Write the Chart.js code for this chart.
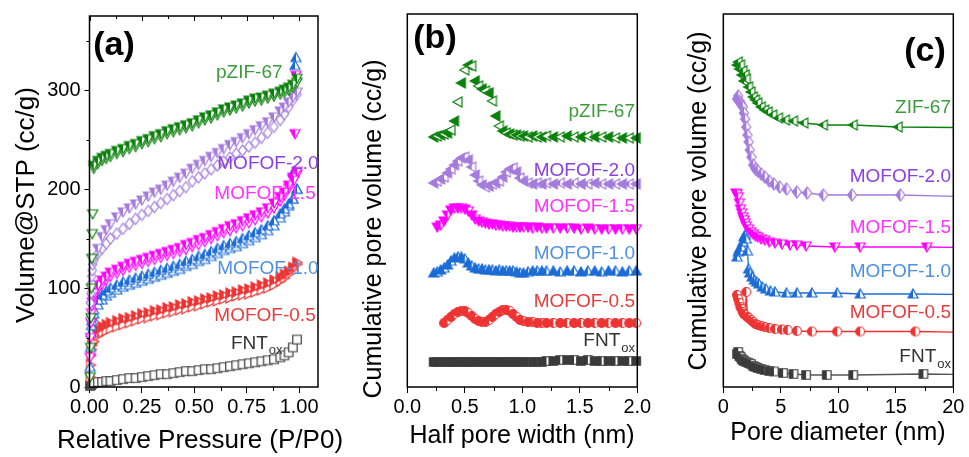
<!DOCTYPE html>
<html><head><meta charset="utf-8">
<script src="https://cdn.jsdelivr.net/npm/chart.js@4.4.1/dist/chart.umd.min.js"></script>
<style>
html,body{margin:0;padding:0;background:#fff;}
#wrap{position:relative;width:969px;height:457px;overflow:hidden;background:#fff;}
canvas{position:absolute;left:0;top:0;}
</style></head><body>
<div id="wrap">
<canvas id="ca" width="969" height="457"></canvas>
<canvas id="cb" width="969" height="457"></canvas>
<canvas id="cc" width="969" height="457"></canvas>
</div>
<script>
// ---------- Panel (a): N2 isotherms ----------
const pressure = [0.02,0.04,0.06,0.08,0.10,0.13,0.16,0.19,0.22,0.25,0.28,0.31,0.34,0.37,0.40,0.43,0.46,0.49,0.52,0.55,0.58,0.61,0.64,0.67,0.70,0.73,0.76,0.79,0.82,0.85,0.88,0.91,0.93,0.95,0.97,0.99];
const lowPressure = [0.003,0.005,0.007,0.009,0.011,0.013,0.015];
const satPressure = [0.975,0.98,0.985];
const xTicksA = [0,0.25,0.5,0.75,1.0];
const yTicksA = [0,100,200,300];

const zif_ads = [221,226,229,231,233,236,238,241,243,246,248,251,253,256,258,260,262,264,267,270,272,275,278,280,282,284,287,289,290,292,294,296,298,300,303,308];
const zif_des = [224,229,232,234,236,239,241,244,246,249,251,254,256,259,261,263,265,267,270,273,275,278,281,283,285,287,290,292,293,295,297,299,301,303,306,312];
const zif_low = [10,40,70,100,130,155,175];
const mof20_ads = [128,135,140,145,150,155,160,165,170,174,178,182,186,190,194,198,202,208,212,216,220,224,228,232,236,239,243,247,252,257,263,270,276,283,290,296];
const mof20_des = [130,140,152,159,165,172,177,181,185,189,193,197,200,204,208,212,216,221,225,229,233,237,241,245,248,252,256,260,264,268,273,279,283,288,293,298];
const mof20_low = [70,85,95,105,112,118,124];
const mof15_ads = [92,99,104,108,112,115,118,121,123,125,127,129,131,133,135,137,139,142,144,147,150,153,156,158,161,163,166,169,172,176,181,188,194,201,210,215];
const mof15_des = [95,103,108,112,116,119,122,125,127,129,131,133,135,137,139,141,144,146,149,151,154,157,160,163,165,168,171,174,177,181,186,192,197,204,212,218];
const mof15_low = [30,50,65,75,82,86,90];
const mof15_sat = [209,256,315];
const mof10_ads = [74,83,88,92,95,98,101,103,105,107,109,111,113,115,117,119,122,124,127,129,132,135,138,140,142,145,148,151,154,158,163,171,177,183,190,200];
const mof10_des = [78,88,93,97,100,103,106,108,110,112,114,116,118,120,122,124,127,129,132,134,137,140,143,145,147,150,153,156,159,163,168,175,180,185,190,200];
const mof10_low = [20,40,55,62,67,71,74];
const mof10_sat = [218,325,333];
const mof05_ads = [46,52,55,57,59,61,63,65,67,69,70,72,73,75,76,78,79,81,82,84,86,87,89,90,92,93,94,96,98,100,103,107,110,114,119,124];
const mof05_des = [52,58,61,63,65,67,69,70,72,74,75,77,78,80,81,83,84,86,87,89,90,92,93,95,96,98,99,101,103,105,108,111,114,117,121,126];
const mof05_low = [10,22,32,38,42,44,46];
const fnt_ads = [4,5,5,6,6,7,8,9,9,10,11,12,13,13,14,15,16,16,17,18,18,19,20,21,22,23,24,25,26,27,28,30,32,35,40,48];
const fnt_low = [1,2,2,3,3,4,4];

// ---------- Panel (b): pore size distribution (offset, arbitrary units) ----------
const halfWidth = [0.23,0.26,0.29,0.32,0.35,0.38,0.41,0.44,0.47,0.50,0.53,0.56,0.59,0.62,0.65,0.68,0.71,0.74,0.77,0.80,0.83,0.86,0.89,0.92,0.95,0.98,1.01,1.05,1.09,1.13,1.17,1.21,1.27,1.33,1.39,1.45,1.51,1.57,1.63,1.69,1.75,1.81,1.87,1.93,1.99];
const psd_zif = [2.50,2.51,2.52,2.53,2.54,2.57,2.66,2.85,3.04,3.17,3.22,3.21,3.06,3.01,2.98,2.96,2.94,2.86,2.71,2.61,2.56,2.54,2.53,2.52,2.52,2.51,2.51,2.50,2.51,2.50,2.50,2.51,2.50,2.50,2.51,2.50,2.50,2.51,2.50,2.50,2.50,2.49,2.49,2.49,2.49];
const psd_mof20 = [2.04,2.06,2.08,2.10,2.14,2.18,2.22,2.26,2.29,2.30,2.27,2.20,2.12,2.06,2.02,2.00,2.01,2.03,2.04,2.06,2.10,2.15,2.18,2.19,2.15,2.09,2.06,2.04,2.03,2.04,2.03,2.04,2.03,2.04,2.03,2.04,2.03,2.03,2.04,2.03,2.03,2.03,2.03,2.03,2.03];
const psd_mof15 = [null,1.60,1.62,1.66,1.72,1.77,1.79,1.79,1.79,1.78,1.76,1.72,1.68,1.66,1.65,1.64,1.63,1.63,1.62,1.62,1.61,1.61,1.61,1.60,1.60,1.60,1.60,1.60,1.59,1.60,1.59,1.59,1.59,1.59,1.59,1.59,1.58,1.59,1.58,1.58,1.58,1.58,1.58,1.58,1.58];
const psd_mof10 = [1.14,1.15,1.17,1.19,1.22,1.26,1.29,1.30,1.30,1.28,1.24,1.21,1.19,1.18,1.18,1.17,1.17,1.17,1.16,1.17,1.16,1.16,1.16,1.16,1.15,1.14,1.14,1.15,1.16,1.16,1.16,1.16,1.16,1.15,1.16,1.16,1.15,1.16,1.16,1.15,1.16,1.16,1.15,1.16,1.16];
const psd_mof05 = [null,null,null,0.64,0.67,0.70,0.73,0.75,0.76,0.76,0.74,0.71,0.68,0.66,0.65,0.65,0.67,0.70,0.73,0.75,0.77,0.77,0.76,0.73,0.70,0.67,0.66,0.65,0.65,0.64,0.64,0.64,0.64,0.64,0.64,0.64,0.64,0.64,0.64,0.64,0.64,0.64,0.64,0.64,0.64];
const psd_fnt = [0.25,0.25,0.25,0.25,0.25,0.25,0.25,0.25,0.25,0.25,0.25,0.25,0.25,0.25,0.25,0.25,0.25,0.25,0.25,0.25,0.25,0.25,0.25,0.25,0.25,0.25,0.25,0.25,0.25,0.25,0.25,0.26,0.26,0.27,0.27,0.27,0.26,0.27,0.26,0.26,0.26,0.26,0.26,0.26,0.26];
const xTicksB = [0,0.5,1.0,1.5,2.0];

// ---------- Panel (c): cumulative pore volume vs pore diameter (offset) ----------
const zifD = [1.2,1.3,1.4,1.5,1.6,1.7,1.8,1.9,2.0,2.2,2.4,2.6,2.8,3.0,3.3,3.6,3.9,4.3,4.8,5.4,6.1,7.0,8.7,11.3,15.2,25];
const zifV = [3.22,3.25,3.18,3.22,3.12,3.16,3.06,3.12,3.08,3.00,2.95,2.90,2.87,2.84,2.80,2.77,2.75,2.72,2.69,2.67,2.66,2.64,2.62,2.62,2.60,2.59];
const mof20D = [1.2,1.3,1.4,1.5,1.6,1.7,1.8,1.9,2.0,2.1,2.2,2.3,2.45,2.6,2.8,3.0,3.3,3.6,4.0,4.4,4.9,5.5,6.4,7.3,8.7,11.2,15.4,25];
const mof20V = [2.88,2.91,2.86,2.84,2.82,2.80,2.74,2.68,2.60,2.52,2.45,2.37,2.30,2.22,2.18,2.16,2.13,2.10,2.06,2.03,2.00,1.98,1.95,1.94,1.92,1.92,1.92,1.89];
const mof15D = [1.1,1.2,1.3,1.4,1.5,1.6,1.7,1.8,1.9,2.0,2.2,2.4,2.6,2.8,3.0,3.3,3.6,4.0,4.5,5.1,5.8,6.4,7.2,9.7,11.9,17.7,25];
const mof15V = [1.94,1.93,1.90,1.84,1.78,1.74,1.70,1.67,1.64,1.61,1.58,1.55,1.53,1.51,1.50,1.48,1.47,1.45,1.44,1.43,1.42,1.42,1.41,1.40,1.40,1.40,1.39];
const mof10D = [1.2,1.3,1.4,1.5,1.6,1.7,1.8,1.9,2.0,2.1,2.2,2.3,2.5,2.7,2.9,3.1,3.4,3.7,4.1,4.5,5.5,6.4,7.7,9.9,11.9,16.5,25];
const mof10V = [1.30,1.35,1.38,1.36,1.40,1.45,1.50,1.52,1.48,1.36,1.18,1.14,1.10,1.07,1.05,1.03,1.00,0.98,0.96,0.95,0.94,0.94,0.94,0.94,0.93,0.93,0.92];
const mof05D = [1.2,1.3,1.4,1.5,1.6,1.7,1.8,1.9,2.0,2.1,2.2,2.4,2.6,2.8,3.0,3.3,3.6,4.0,4.5,5.1,5.6,6.4,7.7,9.9,11.9,16.7,25];
const mof05V = [0.92,0.88,0.84,0.80,0.78,0.75,0.73,0.72,0.95,0.70,0.69,0.67,0.65,0.63,0.62,0.61,0.60,0.59,0.58,0.575,0.57,0.56,0.555,0.555,0.555,0.555,0.54];
const fntD = [1.2,1.3,1.4,1.5,1.6,1.7,1.8,2.0,2.2,2.4,2.6,2.8,3.0,3.3,3.6,4.0,4.4,5.2,6.1,7.2,9.0,11.3,17.4,25];
const fntV = [0.33,0.35,0.31,0.30,0.28,0.27,0.26,0.25,0.24,0.23,0.21,0.20,0.19,0.18,0.17,0.16,0.155,0.14,0.13,0.12,0.12,0.12,0.13,0.12];
const xTicksC = [0,5,10,15,20];

// ---------- styling ----------
const FONT = "'Liberation Sans', Arial, Helvetica, sans-serif";
Chart.defaults.font.family = FONT;
const COL = {green:'#0c800c', purple:'#a47bdc', magenta:'#ff00ff', blue:'#1c6cd6', red:'#ee3333', grey:'#3a3a3a'};
const TXT = {green:'#3c9c3c', purple:'#8a40e4', magenta:'#ff33ff', blue:'#5090e0', red:'#e83c3c', grey:'#333333'};

function makeMarker(shape, color, size, mode, rot) {
  const pad = 2, dim = Math.ceil(size + pad * 2);
  const c = document.createElement('canvas');
  c.width = dim; c.height = dim;
  const g = c.getContext('2d');
  const r = size / 2;
  const path = () => {
    g.beginPath();
    if (shape === 'tri') { g.moveTo(0, -r); g.lineTo(r, r * 0.8); g.lineTo(-r, r * 0.8); g.closePath(); }
    else if (shape === 'diamond') { g.moveTo(0, -r); g.lineTo(r * 0.75, 0); g.lineTo(0, r); g.lineTo(-r * 0.75, 0); g.closePath(); }
    else if (shape === 'circle') { g.arc(0, 0, r * 0.9, 0, Math.PI * 2); }
    else { g.rect(-r * 0.85, -r * 0.85, r * 1.7, r * 1.7); }
  };
  const rad = (rot || 0) * Math.PI / 180;
  g.translate(dim / 2, dim / 2);
  g.save(); g.rotate(rad); path(); g.fillStyle = '#fff'; g.fill(); g.restore();
  if (mode === 'half' || mode === 'full') {
    g.save();
    if (mode === 'half') { g.beginPath(); g.rect(-dim / 2, -dim / 2, dim / 2, dim); g.clip(); }
    g.rotate(rad); path(); g.fillStyle = color; g.fill();
    g.restore();
  }
  g.save(); g.rotate(rad); path(); g.strokeStyle = color; g.lineWidth = 1.2; g.stroke(); g.restore();
  return c;
}

function pts(xs, ys) { const out = []; xs.forEach((x, i) => { if (ys[i] != null) out.push({x: x, y: ys[i]}); }); return out; }
function ds(xs, ys, marker, extra) {
  return Object.assign({data: pts(xs, ys), pointStyle: marker, pointRadius: 4, showLine: false, clip: false}, extra || {});
}
function dsAlt(xs, ys, m1, m2) {
  const d = pts(xs, ys);
  return {data: d, pointStyle: d.map((p, i) => (i % 2 ? m2 : m1)), pointRadius: 4, showLine: false, clip: false};
}

// decoration plugin: frame, minor ticks, titles, labels
const decor = {
  id: 'decor',
  afterDraw(chart, args, o) {
    const ctx = chart.ctx, a = chart.chartArea, xs = chart.scales.x, ys = chart.scales.y;
    ctx.save();
    ctx.strokeStyle = '#000'; ctx.lineWidth = 1;
    const line = (x1, y1, x2, y2) => { ctx.beginPath(); ctx.moveTo(x1, y1); ctx.lineTo(x2, y2); ctx.stroke(); };
    (o.minorX || []).forEach(v => { const p = Math.round(xs.getPixelForValue(v)) + 0.5; line(p, a.bottom, p, a.bottom + 4); });
    (o.minorY || []).forEach(v => { const p = Math.round(ys.getPixelForValue(v)) + 0.5; line(a.left, p, a.left - 3, p); });
    (o.topMajor || []).forEach(v => { const p = Math.round(xs.getPixelForValue(v)) + 0.5; line(p, a.top, p, a.top + 5); });
    (o.topMinor || []).forEach(v => { const p = Math.round(xs.getPixelForValue(v)) + 0.5; line(p, a.top, p, a.top + 3); });
    ctx.lineWidth = 1.5;
    ctx.strokeRect(a.left, a.top, a.right - a.left, a.bottom - a.top);
    ctx.fillStyle = '#000';
    ctx.textAlign = 'center'; ctx.textBaseline = 'middle';
    if (o.xTitle) { ctx.font = o.xTitle.size + 'px ' + FONT; ctx.fillText(o.xTitle.text, o.xTitle.x, o.xTitle.y); }
    if (o.yTitle) {
      ctx.save(); ctx.translate(o.yTitle.x, o.yTitle.y); ctx.rotate(-Math.PI / 2);
      ctx.font = o.yTitle.size + 'px ' + FONT; ctx.fillText(o.yTitle.text, 0, 0); ctx.restore();
    }
    if (o.letter) { ctx.font = 'bold ' + o.letter.size + 'px ' + FONT; ctx.fillText(o.letter.text, o.letter.x, o.letter.y); }
    (o.labels || []).forEach(l => {
      const px = xs.getPixelForValue(l.x), py = ys.getPixelForValue(l.y);
      ctx.fillStyle = l.color; ctx.textAlign = 'right'; ctx.textBaseline = 'middle';
      if (l.sub) {
        ctx.font = '13px ' + FONT;
        const sw = ctx.measureText(l.sub).width;
        ctx.fillText(l.sub, px, py + 7);
        ctx.font = '19px ' + FONT;
        ctx.fillText(l.text, px - sw - 1, py);
      } else {
        ctx.font = '19px ' + FONT;
        ctx.fillText(l.text, px, py);
      }
    });
    ctx.restore();
  }
};

function xScale(min, max, step, dec) {
  return {
    type: 'linear', min: min, max: max,
    afterFit: s => { s.height = 30; },
    afterBuildTicks: s => { s.ticks = (dec.ticks).map(v => ({value: v})); },
    ticks: {stepSize: step, includeBounds: false, autoSkip: false, maxRotation: 0, color: '#000',
      font: {size: 20, family: FONT}, padding: 2, callback: v => v.toFixed(dec.digits)},
    grid: {display: true, drawOnChartArea: false, drawTicks: true, tickLength: 6, color: '#000', lineWidth: 1},
    border: {display: false}
  };
}

// ---------- Chart (a) ----------
const mA = {
  zifO: makeMarker('tri', COL.green, 10, 'open', 180), zifH: makeMarker('tri', COL.green, 10, 'half', 180),
  m20O: makeMarker('diamond', COL.purple, 11, 'open', 0), m20H: makeMarker('tri', COL.purple, 10, 'half', 180),
  m15O: makeMarker('tri', COL.magenta, 10, 'open', 180), m15H: makeMarker('tri', COL.magenta, 10, 'half', 180),
  m10O: makeMarker('tri', COL.blue, 10, 'open', 0), m10H: makeMarker('tri', COL.blue, 10, 'half', 0),
  m05O: makeMarker('tri', COL.red, 10, 'open', 90), m05H: makeMarker('tri', COL.red, 10, 'half', 90),
  fntO: makeMarker('square', COL.grey, 10, 'open', 0)
};
new Chart(document.getElementById('ca'), {
  type: 'scatter',
  data: {datasets: [
    ds(pressure, zif_des, mA.zifH), ds(pressure, zif_ads, mA.zifO), ds(lowPressure, zif_low, mA.zifO),
    ds(pressure, mof20_des, mA.m20H), ds(pressure, mof20_ads, mA.m20O), ds(lowPressure, mof20_low, mA.m20O),
    ds(satPressure, mof15_sat, mA.m15H), ds(pressure, mof15_des, mA.m15H), ds(pressure, mof15_ads, mA.m15O), ds(lowPressure, mof15_low, mA.m15O),
    ds(satPressure, mof10_sat, mA.m10H), ds(pressure, mof10_des, mA.m10H), ds(pressure, mof10_ads, mA.m10O), ds(lowPressure, mof10_low, mA.m10O),
    ds(pressure, mof05_des, mA.m05H), ds(pressure, mof05_ads, mA.m05O), ds(lowPressure, mof05_low, mA.m05O),
    ds(pressure, fnt_ads, mA.fntO), ds(lowPressure, fnt_low, mA.fntO)
  ]},
  options: {
    responsive: false, animation: false, events: [],
    layout: {autoPadding: false, padding: {left: 39.5, right: 651, top: 14, bottom: 40}},
    plugins: {legend: {display: false}, tooltip: {enabled: false},
      decor: {
        minorX: [0.125, 0.375, 0.625, 0.875], minorY: [50, 150, 250, 350],
        topMajor: xTicksA, topMinor: [0.125, 0.375, 0.625, 0.875],
        xTitle: {text: 'Relative Pressure (P/P0)', x: 200, y: 441, size: 26},
        yTitle: {text: 'Volume@STP (cc/g)', x: 27, y: 205, size: 26},
        letter: {text: '(a)', x: 114, y: 46, size: 34},
        labels: [
          {text: 'pZIF-67', x: 0.921, y: 318, color: TXT.green},
          {text: 'MOFOF-2.0', x: 1.093, y: 226, color: TXT.purple},
          {text: 'MOFOF-1.5', x: 1.079, y: 195, color: TXT.magenta},
          {text: 'MOFOF-1.0', x: 1.093, y: 120, color: TXT.blue},
          {text: 'MOFOF-0.5', x: 1.079, y: 72, color: TXT.red},
          {text: 'FNT', sub: 'ox', x: 0.921, y: 44, color: TXT.grey}
        ]
      }
    },
    scales: {
      x: xScale(0, 1.09, 0.25, {ticks: xTicksA, digits: 2}),
      y: {
        min: 0, max: 375,
        afterFit: s => { s.width = 50; },
        afterBuildTicks: s => { s.ticks = yTicksA.map(v => ({value: v})); },
        ticks: {stepSize: 100, includeBounds: false, color: '#000', font: {size: 20, family: FONT}, padding: 4},
        grid: {display: true, drawOnChartArea: false, drawTicks: true, tickLength: 5, color: '#000'},
        border: {display: false}
      }
    }
  },
  plugins: [decor]
});

// ---------- Chart (b) ----------
const mB = {
  zifF: makeMarker('tri', COL.green, 10, 'full', -90), zifO: makeMarker('tri', COL.green, 10, 'open', -90),
  m20F: makeMarker('tri', COL.purple, 10, 'full', -90), m20O: makeMarker('tri', COL.purple, 10, 'half', -90),
  m15F: makeMarker('tri', COL.magenta, 10, 'full', 180), m15O: makeMarker('tri', COL.magenta, 10, 'half', 180),
  m10F: makeMarker('tri', COL.blue, 10, 'full', 0), m10O: makeMarker('tri', COL.blue, 10, 'half', 0),
  m05F: makeMarker('circle', COL.red, 10, 'full', 0), m05O: makeMarker('circle', COL.red, 10, 'half', 0),
  fntF: makeMarker('square', COL.grey, 10, 'full', 0), fntO: makeMarker('square', COL.grey, 10, 'half', 0)
};
new Chart(document.getElementById('cb'), {
  type: 'scatter',
  data: {datasets: [
    dsAlt(halfWidth, psd_zif, mB.zifF, mB.zifO), dsAlt(halfWidth, psd_mof20, mB.m20F, mB.m20O),
    dsAlt(halfWidth, psd_mof15, mB.m15F, mB.m15O), dsAlt(halfWidth, psd_mof10, mB.m10F, mB.m10O),
    dsAlt(halfWidth, psd_mof05, mB.m05F, mB.m05O), dsAlt(halfWidth, psd_fnt, mB.fntF, mB.fntO)
  ]},
  options: {
    responsive: false, animation: false, events: [],
    layout: {autoPadding: false, padding: {left: 407.3, right: 331.7, top: 14, bottom: 40}},
    plugins: {legend: {display: false}, tooltip: {enabled: false},
      decor: {
        minorX: [0.25, 0.75, 1.25, 1.75],
        xTitle: {text: 'Half pore width (nm)', x: 522, y: 436, size: 25},
        yTitle: {text: 'Cumulative pore volume (cc/g)', x: 374, y: 229, size: 25},
        letter: {text: '(b)', x: 435, y: 39, size: 34},
        labels: [
          {text: 'pZIF-67', x: 1.98, y: 2.75, color: TXT.green},
          {text: 'MOFOF-2.0', x: 1.98, y: 2.16, color: TXT.purple},
          {text: 'MOFOF-1.5', x: 1.98, y: 1.80, color: TXT.magenta},
          {text: 'MOFOF-1.0', x: 1.98, y: 1.33, color: TXT.blue},
          {text: 'MOFOF-0.5', x: 1.98, y: 0.85, color: TXT.red},
          {text: 'FNT', sub: 'ox', x: 1.98, y: 0.46, color: TXT.grey}
        ]
      }
    },
    scales: {
      x: xScale(0, 2.0, 0.5, {ticks: xTicksB, digits: 1}),
      y: {display: false, min: 0, max: 3.73}
    }
  },
  plugins: [decor]
});

// ---------- Chart (c) ----------
const mC = {
  zif: makeMarker('tri', COL.green, 10, 'half', -90),
  m20: makeMarker('diamond', COL.purple, 12, 'half', 0),
  m15: makeMarker('tri', COL.magenta, 10, 'half', 180),
  m10: makeMarker('tri', COL.blue, 10, 'half', 0),
  m05: makeMarker('circle', COL.red, 10, 'half', 0),
  fnt: makeMarker('square', COL.grey, 10, 'half', 0)
};
const lineOpts = c => ({showLine: true, borderColor: c, borderWidth: 1.3, clip: {left: false, top: false, bottom: false, right: 0}});
new Chart(document.getElementById('cc'), {
  type: 'scatter',
  data: {datasets: [
    ds(zifD, zifV, mC.zif, lineOpts(COL.green)), ds(mof20D, mof20V, mC.m20, lineOpts(COL.purple)),
    ds(mof15D, mof15V, mC.m15, lineOpts(COL.magenta)), ds(mof10D, mof10V, mC.m10, lineOpts(COL.blue)),
    ds(mof05D, mof05V, mC.m05, lineOpts(COL.red)), ds(fntD, fntV, mC.fnt, lineOpts('#555555'))
  ]},
  options: {
    responsive: false, animation: false, events: [],
    layout: {autoPadding: false, padding: {left: 723.3, right: 15.7, top: 14, bottom: 40}},
    plugins: {legend: {display: false}, tooltip: {enabled: false},
      decor: {
        minorX: [2.5, 7.5, 12.5, 17.5],
        xTitle: {text: 'Pore diameter (nm)', x: 838, y: 433, size: 25},
        yTitle: {text: 'Cumulative pore volume (cc/g)', x: 699, y: 201, size: 25},
        letter: {text: '(c)', x: 925, y: 52, size: 34},
        labels: [
          {text: 'ZIF-67', x: 19.8, y: 2.79, color: TXT.green},
          {text: 'MOFOF-2.0', x: 19.8, y: 2.10, color: TXT.purple},
          {text: 'MOFOF-1.5', x: 19.8, y: 1.59, color: TXT.magenta},
          {text: 'MOFOF-1.0', x: 19.8, y: 1.15, color: TXT.blue},
          {text: 'MOFOF-0.5', x: 19.8, y: 0.74, color: TXT.red},
          {text: 'FNT', sub: 'ox', x: 19.8, y: 0.30, color: TXT.grey}
        ]
      }
    },
    scales: {
      x: xScale(0, 20, 5, {ticks: xTicksC, digits: 0}),
      y: {display: false, min: 0, max: 3.73}
    }
  },
  plugins: [decor]
});
</script>
</body></html>
